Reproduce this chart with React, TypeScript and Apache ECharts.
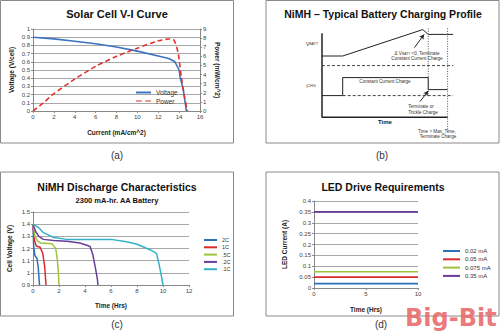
import React, { useEffect, useRef } from "react";
import * as echarts from "echarts";

// ---------- Panel (a): Solar Cell V-I Curve ----------
const voltageCurrent = [0, 2, 4, 6, 8, 10, 12, 13, 13.6, 14, 14.1, 14.4, 14.7];
const voltageValues = [0.9, 0.88, 0.85, 0.82, 0.78, 0.73, 0.67, 0.64, 0.6, 0.5, 0.41, 0.26, 0];
const powerCurrent = [0, 1, 2, 4, 6, 8, 10, 12, 13, 13.5, 13.9, 14.2, 14.5, 14.8];
const powerValues = [0, 0.9, 1.9, 3.5, 4.9, 6.0, 6.9, 7.7, 7.9, 7.8, 6.4, 3.8, 1.6, 0];

// ---------- Panel (b): charging profile schematic (arbitrary units) ----------
const chgVoltage = [[0, 70], [15, 70], [73, 92], [77, 88], [95, 88]];
const chgCurrent = [[0, 37], [15, 37], [15, 52], [77, 52], [77, 42], [91, 42]];
const chgAxes = [[0, 89], [0, 19], [91, 19]];
const chgDashV = [[0, 62], [95, 62]];
const chgDashI = [[15, 37], [95, 37]];
const chgDot1 = [[77, 93], [77, 37]];
const chgDot2 = [[91, 93], [91, 6]];
const arrow1 = [[67, 77], [74, 88]];
const arrow2 = [[71, 32], [77, 41]];

// ---------- Panel (c): NiMH discharge ----------
const disNames = ["2C", "1C", ".5C", ".2C", ".1C"];
const dis2C_t = [0, 0.05, 0.15, 0.3, 0.4, 0.5];
const dis2C_v = [1.4, 1.22, 1.14, 1.12, 1.05, 0.9];
const dis1C_t = [0, 0.1, 0.25, 0.55, 0.75, 0.9, 1.0];
const dis1C_v = [1.38, 1.27, 1.22, 1.21, 1.16, 1.05, 0.9];
const dis05C_t = [0, 0.15, 0.35, 0.6, 1.45, 1.75, 1.88, 1.95, 2.0];
const dis05C_v = [1.4, 1.3, 1.26, 1.245, 1.24, 1.2, 1.1, 1.0, 0.9];
const dis02C_t = [0, 0.2, 0.45, 0.8, 1.6, 2.6, 3.6, 4.2, 4.4, 4.6, 4.8, 4.95, 5.0];
const dis02C_v = [1.4, 1.34, 1.3, 1.275, 1.265, 1.26, 1.245, 1.225, 1.215, 1.15, 1.04, 0.95, 0.9];
const dis01C_t = [0, 0.45, 0.8, 1.6, 2.6, 6, 7.2, 8, 9, 9.5, 9.7, 9.9, 10];
const dis01C_v = [1.4, 1.37, 1.33, 1.29, 1.275, 1.275, 1.255, 1.235, 1.19, 1.16, 1.07, 0.96, 0.9];

// ---------- Panel (d): LED drive ----------
const ledNames = ["0.02 mA", "0.05 mA", "0.075 mA", "0.35 mA"];
const ledCurrents = [0.02, 0.05, 0.075, 0.35];
const ledTimes = [0, 10];

const palette = ["#2e6fba", "#d92b2b", "#9dc43a", "#6b3d9a", "#35b0c6"];
const FONT = "Liberation Sans";
const DASH_ICON = "path://M0,0H5V1H0Z M8,0H13V1H8Z";

function zip(xs: number[], ys: number[]) {
  return xs.map((x, i) => [x, ys[i]]);
}

const axisLabel = { fontSize: 6, color: "#444", margin: 3, fontFamily: FONT };
const axisLine = { show: true, lineStyle: { color: "#888", width: 1 } };
const axisTick = { show: true, length: 2, lineStyle: { color: "#888" } };
const splitLine = { show: true, lineStyle: { color: "#a8a8a8", width: 1 } };
const nameStyle = { fontSize: 6.5, fontWeight: "bold" as const, color: "#222", fontFamily: FONT };

function txt(text: string, x: number, y: number, size: number, extra: any = {}) {
  return {
    type: "text",
    x,
    y,
    silent: true,
    style: {
      text,
      fontSize: size,
      fontFamily: FONT,
      fill: "#222",
      align: "center",
      verticalAlign: "middle",
      ...extra,
    },
  };
}

function frame(x: number, y: number, w: number, h: number) {
  return {
    type: "rect",
    silent: true,
    shape: { x, y, width: w, height: h },
    style: { fill: "none", stroke: "#8a8a8a", lineWidth: 1 },
  };
}

const subRich = {
  a: { fontSize: 5, fill: "#333", lineHeight: 6, verticalAlign: "bottom" },
  b: { fontSize: 3.6, fill: "#333", lineHeight: 4.6, verticalAlign: "bottom" },
};
const subRichSmall = {
  a: { fontSize: 4.6, fill: "#333", lineHeight: 5.5, verticalAlign: "bottom" },
  b: { fontSize: 3.4, fill: "#333", lineHeight: 4.3, verticalAlign: "bottom" },
};

export default function App() {
  const ref = useRef<HTMLDivElement>(null);
  useEffect(() => {
    const chart = echarts.init(ref.current!, null, { renderer: "svg" });
    const disT = [dis2C_t, dis1C_t, dis05C_t, dis02C_t, dis01C_t];
    const disV = [dis2C_v, dis1C_v, dis05C_v, dis02C_v, dis01C_v];

    const bLine = (data: number[][], style: any) => ({
      type: "line",
      xAxisIndex: 1,
      yAxisIndex: 2,
      data,
      symbol: "none",
      silent: true,
      lineStyle: { color: "#222", width: 1, ...style },
    });

    const option: any = {
      animation: false,
      backgroundColor: "#fff",
      textStyle: { fontFamily: FONT },
      grid: [
        { left: 33, top: 29, width: 167, height: 82 },
        { left: 322, top: 20, width: 138, height: 120 },
        { left: 33, top: 212, width: 156, height: 73 },
        { left: 314, top: 201, width: 104, height: 87 },
      ],
      xAxis: [
        {
          type: "value", gridIndex: 0, min: 0, max: 16, interval: 2,
          name: "Current (mA/cm^2)", nameLocation: "middle", nameGap: 18, nameTextStyle: nameStyle,
          axisLabel, axisLine, axisTick, splitLine: { show: false },
        },
        { type: "value", gridIndex: 1, min: 0, max: 100, show: false },
        {
          type: "value", gridIndex: 2, min: 0, max: 12, interval: 2,
          name: "Time (Hrs)", nameLocation: "middle", nameGap: 17, nameTextStyle: nameStyle,
          axisLabel, axisLine, axisTick, splitLine: { show: false },
        },
        {
          type: "value", gridIndex: 3, min: 0, max: 10, interval: 5,
          name: "Time (Hrs)", nameLocation: "middle", nameGap: 18, nameTextStyle: nameStyle,
          axisLabel, axisLine, axisTick, splitLine: { show: false },
        },
      ],
      yAxis: [
        {
          type: "value", gridIndex: 0, min: 0, max: 1, interval: 0.1,
          name: "Voltage (V/cell)", nameLocation: "middle", nameGap: 18, nameTextStyle: nameStyle,
          axisLabel, axisLine, axisTick, splitLine,
        },
        {
          type: "value", gridIndex: 0, min: 0, max: 9, interval: 1, position: "right",
          name: "Power (mW/cm^2)", nameLocation: "middle", nameGap: 14, nameRotate: -90, nameTextStyle: nameStyle,
          axisLabel, axisLine, axisTick, splitLine: { show: false },
        },
        { type: "value", gridIndex: 1, min: 0, max: 100, show: false },
        {
          type: "value", gridIndex: 2, min: 0.9, max: 1.5, interval: 0.1,
          name: "Cell Voltage (V)", nameLocation: "middle", nameGap: 20, nameTextStyle: nameStyle,
          axisLabel, axisLine, axisTick, splitLine,
        },
        {
          type: "value", gridIndex: 3, min: 0, max: 0.4, interval: 0.05,
          name: "LED Current (A)", nameLocation: "middle", nameGap: 26, nameTextStyle: nameStyle,
          axisLabel, axisLine, axisTick, splitLine,
        },
      ],
      legend: [
        {
          data: [{ name: "Voltage", icon: "rect" }, { name: "Power", icon: DASH_ICON }],
          orient: "vertical", left: 131, top: 84,
          itemWidth: 15, itemHeight: 2, itemGap: 1.5,
          textStyle: { fontSize: 6.5, color: "#333" },
        },
        {
          data: disNames, icon: "rect", orient: "vertical", left: 199, top: 232,
          itemWidth: 13, itemHeight: 2, itemGap: 1.3,
          textStyle: { fontSize: 5.5, color: "#333" },
        },
        {
          data: ledNames, icon: "rect", orient: "vertical", left: 438, top: 243,
          itemWidth: 17, itemHeight: 2, itemGap: 2.3,
          textStyle: { fontSize: 6, color: "#333" },
        },
      ],
      series: [
        {
          name: "Voltage", type: "line", xAxisIndex: 0, yAxisIndex: 0, symbol: "none",
          data: zip(voltageCurrent, voltageValues),
          lineStyle: { color: "#3a73bf", width: 1.6 }, itemStyle: { color: "#3a73bf" },
        },
        {
          name: "Power", type: "line", xAxisIndex: 0, yAxisIndex: 1, symbol: "none", smooth: 0.2,
          data: zip(powerCurrent, powerValues),
          lineStyle: { color: "#e0322d", width: 1.6, type: [5, 3] }, itemStyle: { color: "#e0322d" },
        },
        {
          ...bLine(chgVoltage, {}),
          markLine: {
            silent: true, symbol: ["none", "arrow"], symbolSize: [4, 5], animation: false,
            label: { show: false },
            lineStyle: { color: "#222", width: 1, type: "solid" },
            data: [
              [{ coord: arrow1[0] }, { coord: arrow1[1] }],
              [{ coord: arrow2[0] }, { coord: arrow2[1] }],
            ],
          },
        },
        bLine(chgCurrent, {}),
        bLine(chgAxes, { width: 1.5 }),
        bLine(chgDashV, { type: [3, 2], color: "#444" }),
        bLine(chgDashI, { type: [3, 2], color: "#444" }),
        bLine(chgDot1, { type: [1, 1.5], color: "#555" }),
        bLine(chgDot2, { type: [1, 1.5], color: "#555" }),
        ...disNames.map((n, i) => ({
          name: n, type: "line", xAxisIndex: 2, yAxisIndex: 3, symbol: "none",
          data: zip(disT[i], disV[i]),
          lineStyle: { color: palette[i], width: 1.5 }, itemStyle: { color: palette[i] },
        })),
        ...ledNames.map((n, i) => ({
          name: n, type: "line", xAxisIndex: 3, yAxisIndex: 4, symbol: "none",
          data: ledTimes.map((t) => [t, ledCurrents[i]]),
          lineStyle: { color: palette[i], width: 1.6 }, itemStyle: { color: palette[i] },
        })),
      ],
      graphic: [
        frame(0.5, 0.5, 233, 142.5),
        frame(266, 0.5, 233, 142.5),
        frame(0.5, 172, 233, 144),
        frame(266, 172, 233, 144),
        txt("Solar Cell V-I Curve", 117, 14, 11, { fontWeight: "bold", fill: "#111" }),
        txt("NiMH \u2013 Typical Battery Charging Profile", 383, 14, 10.5, { fontWeight: "bold", fill: "#111" }),
        txt("NiMH Discharge Characteristics", 117, 187, 10.5, { fontWeight: "bold", fill: "#111" }),
        txt("2300 mA-hr. AA Battery", 117, 200, 7.5, { fontWeight: "bold", fill: "#111" }),
        txt("LED Drive Requirements", 383, 187, 10.5, { fontWeight: "bold", fill: "#111" }),
        txt("(a)", 117, 155, 10, { fill: "#333" }),
        txt("(b)", 382, 155, 10, { fill: "#333" }),
        txt("(c)", 117, 324, 10, { fill: "#333" }),
        txt("(d)", 381, 324, 10, { fill: "#333" }),
        // panel (b) annotations
        txt("{a|V}{b|BATT}", 312, 43, 5, { rich: subRich }),
        txt("{a|I}{b|CHG}", 311, 85, 5, { rich: subRich }),
        txt("{a|\u0394 V}{b|BATT}{a| <0, Terminate}", 417, 53, 4.6, { rich: subRichSmall }),
        txt("Constant Current Charge", 417, 58.5, 4.6, { fill: "#333" }),
        txt("Constant Current Charge", 385, 81, 4.6, { fill: "#333" }),
        txt("Terminate or", 421, 106, 4.6, { fill: "#333" }),
        txt("Trickle Charge", 423, 112, 4.6, { fill: "#333" }),
        txt("Time", 385, 122, 6, { fontWeight: "bold", fill: "#222" }),
        txt("Time > Max_Time,", 437, 131, 4.6, { fill: "#333" }),
        txt("Terminate Charge", 438, 136, 4.6, { fill: "#333" }),
        // logo
        {
          type: "text", x: 405, y: 306, silent: true,
          style: {
            text: "Big-Bit", fontSize: 24, fontWeight: "bold", fontFamily: "DejaVu Sans",
            fill: "#e8686a", opacity: 0.88, align: "left", verticalAlign: "top",
          },
        },
      ],
    };
    chart.setOption(option);
    return () => chart.dispose();
  }, []);
  return (
    <div
      ref={ref}
      style={{ position: "absolute", left: 0, top: 0, width: 500, height: 336, background: "#fff" }}
    />
  );
}
